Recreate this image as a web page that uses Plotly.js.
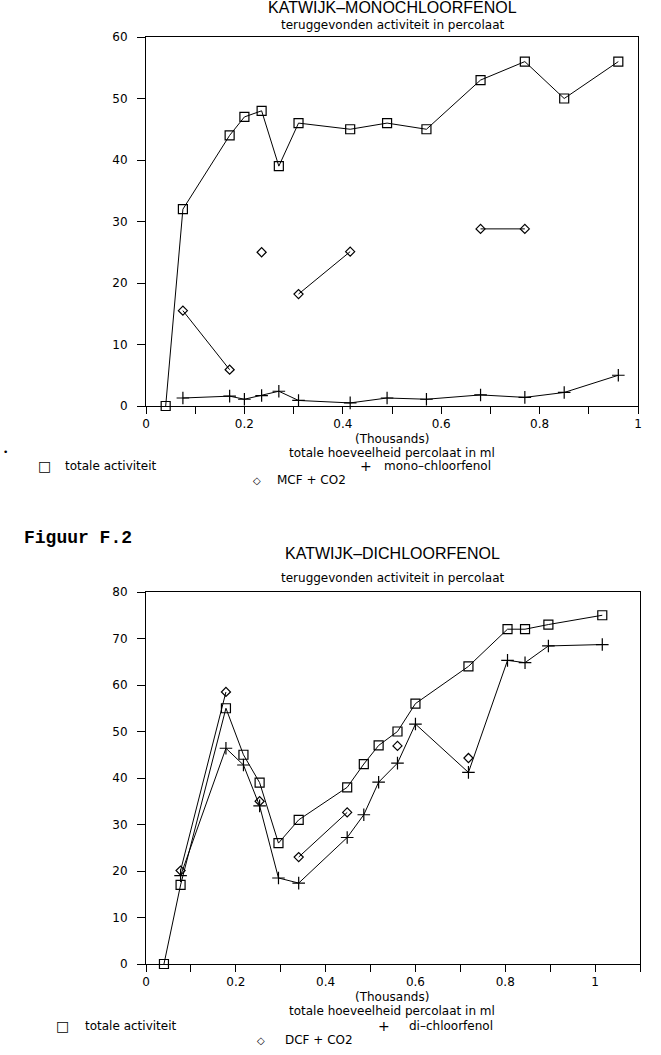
<!DOCTYPE html>
<html>
<head>
<meta charset="utf-8">
<script src="https://cdn.plot.ly/plotly-3.0.1.min.js"></script>
<style>
  html, body { margin: 0; padding: 0; background: #fff; }
  #chart { width: 661px; height: 1055px; }
</style>
</head>
<body>
<div id="chart"></div>
<script>
// ---------- Data: top chart (mono-chloorfenol) ----------
const xMono = [0.04, 0.075, 0.17, 0.2, 0.235, 0.27, 0.31, 0.415, 0.49, 0.57, 0.68, 0.77, 0.85, 0.96];
const totaleMono = [0, 32, 44, 47, 48, 39, 46, 45, 46, 45, 53, 56, 50, 56];
const monoChloorfenol = [null, 1.3, 1.6, 1.1, 1.7, 2.4, 0.9, 0.5, 1.3, 1.1, 1.8, 1.4, 2.2, 5.0];
const mcfCO2 = [null, 15.5, 5.9, null, 25, null, 18.2, 25.1, null, null, 28.8, 28.8, null, null];

// ---------- Data: bottom chart (di-chloorfenol) ----------
const xDi = [0.04, 0.077, 0.178, 0.217, 0.253, 0.295, 0.34, 0.448, 0.485, 0.518, 0.56, 0.6, 0.718, 0.805, 0.844, 0.896, 1.016];
const totaleDi = [0, 17, 55, 45, 39, 26, 31, 38, 43, 47, 50, 56, 64, 72, 72, 73, 75];
const diChloorfenol = [null, 19, 46.4, 42.8, 34, 18.5, 17.4, 27.2, 32.1, 39.1, 43.2, 51.6, 41.2, 65.3, 64.8, 68.4, 68.7];
const dcfCO2 = [null, 20.1, 58.5, null, 35, null, 23, 32.6, null, null, 46.9, null, 44.3, null, null, null, null];

// ---------- Tick labels ----------
const xTickValsTop = [0, 0.1, 0.2, 0.3, 0.4, 0.5, 0.6, 0.7, 0.8, 0.9, 1.0];
const xTickTextTop = ['0', '', '0.2', '', '0.4', '', '0.6', '', '0.8', '', '1'];
const xTickValsBot = [0, 0.1, 0.2, 0.3, 0.4, 0.5, 0.6, 0.7, 0.8, 0.9, 1.0, 1.1];
const xTickTextBot = ['0', '', '0.2', '', '0.4', '', '0.6', '', '0.8', '', '1', ''];

// ---------- Texts ----------
const titleTop = 'KATWIJK–MONOCHLOORFENOL';
const titleBot = 'KATWIJK–DICHLOORFENOL';
const subtitle = 'teruggevonden activiteit in percolaat';
const unitText = '(Thousands)';
const xTitle = 'totale hoeveelheid percolaat in ml';
const legTop = ['totale activiteit', 'mono–chloorfenol', 'MCF + CO2'];
const legBot = ['totale activiteit', 'di–chloorfenol', 'DCF + CO2'];
const figLabel = 'Figuur F.2';

const W = 661, H = 1055;
const px = v => v / W;
const py = v => 1 - v / H;

const FONT = 'DejaVu Sans';
const black = '#000';

function lineTrace(x, y, symbol, size, xa, ya) {
  return {
    x: x, y: y, xaxis: xa, yaxis: ya, type: 'scatter', mode: 'lines+markers',
    connectgaps: false, cliponaxis: false, showlegend: false, hoverinfo: 'skip',
    line: { color: black, width: 1 },
    marker: { symbol: symbol, size: size, color: black, line: { color: black, width: 1.2 } }
  };
}

const data = [
  lineTrace(xMono, totaleMono, 'square-open', 9, 'x', 'y'),
  lineTrace(xMono, monoChloorfenol, 'cross-thin-open', 9, 'x', 'y'),
  lineTrace(xMono, mcfCO2, 'diamond-open', 7, 'x', 'y'),
  lineTrace(xDi, totaleDi, 'square-open', 9, 'x2', 'y2'),
  lineTrace(xDi, diChloorfenol, 'cross-thin-open', 9, 'x2', 'y2'),
  lineTrace(xDi, dcfCO2, 'diamond-open', 7, 'x2', 'y2')
];

const tickFont = { family: FONT, size: 12, color: black };

function xAxis(domain, range, vals, text, anchor) {
  return {
    domain: domain, range: range, anchor: anchor,
    tickmode: 'array', tickvals: vals, ticktext: text,
    ticks: 'outside', ticklen: 7, tickwidth: 1, tickcolor: black,
    showline: true, linecolor: black, linewidth: 1, mirror: true,
    showgrid: false, zeroline: false, tickfont: tickFont, fixedrange: true
  };
}
function yAxis(domain, range, dtick, anchor) {
  return {
    domain: domain, range: range, anchor: anchor, dtick: dtick,
    ticks: 'outside', ticklen: 8, tickwidth: 1, tickcolor: black,
    showline: true, linecolor: black, linewidth: 1, mirror: true,
    showgrid: false, zeroline: false, tickfont: tickFont, ticklabelstandoff: 7, fixedrange: true
  };
}

function ann(text, x, y, opts) {
  return Object.assign({
    text: text, x: px(x), y: py(y), xref: 'paper', yref: 'paper',
    showarrow: false, xanchor: 'center', yanchor: 'middle',
    font: { family: FONT, size: 12, color: black }
  }, opts || {});
}

const titleFont = { family: 'Liberation Sans', size: 16, color: black };
const symFont = { family: FONT, size: 14, color: black };

const annotations = [
  // top chart
  ann(titleTop, 392, 8, { font: titleFont }),
  ann(subtitle, 392, 25),
  ann(unitText, 392, 439),
  ann(xTitle, 392, 453),
  ann('□', 44, 466, { font: symFont }),
  ann(legTop[0], 63, 466, { xanchor: 'left' }),
  ann('+', 366, 466, { font: symFont }),
  ann(legTop[1], 382, 466, { xanchor: 'left' }),
  ann('◇', 257, 480, { font: { family: FONT, size: 10, color: black } }),
  ann(legTop[2], 275, 480, { xanchor: 'left' }),
  ann('•', 5, 452, { font: { family: FONT, size: 9, color: black } }),
  // between
  ann(figLabel, 22, 538, { xanchor: 'left', font: { family: 'Liberation Mono', size: 18, color: black, weight: 'bold' } }),
  // bottom chart
  ann(titleBot, 392, 553, { font: titleFont }),
  ann(subtitle, 392, 578),
  ann(unitText, 392, 997),
  ann(xTitle, 392, 1011),
  ann('□', 62, 1026, { font: symFont }),
  ann(legBot[0], 83, 1026, { xanchor: 'left' }),
  ann('+', 384, 1026, { font: symFont }),
  ann(legBot[1], 407, 1026, { xanchor: 'left' }),
  ann('◇', 261, 1040, { font: { family: FONT, size: 10, color: black } }),
  ann(legBot[2], 283, 1040, { xanchor: 'left' })
];

const layout = {
  width: W, height: H,
  margin: { l: 0, r: 0, t: 0, b: 0 },
  paper_bgcolor: '#fff', plot_bgcolor: '#fff',
  showlegend: false,
  xaxis: xAxis([px(146), px(638)], [0, 1], xTickValsTop, xTickTextTop, 'y'),
  yaxis: yAxis([py(406), py(37)], [0, 60], 10, 'x'),
  xaxis2: xAxis([px(146), px(640)], [0, 1.1], xTickValsBot, xTickTextBot, 'y2'),
  yaxis2: yAxis([py(964), py(592)], [0, 80], 10, 'x2'),
  annotations: annotations
};

Plotly.newPlot('chart', data, layout, { staticPlot: true, displayModeBar: false });
</script>
</body>
</html>
